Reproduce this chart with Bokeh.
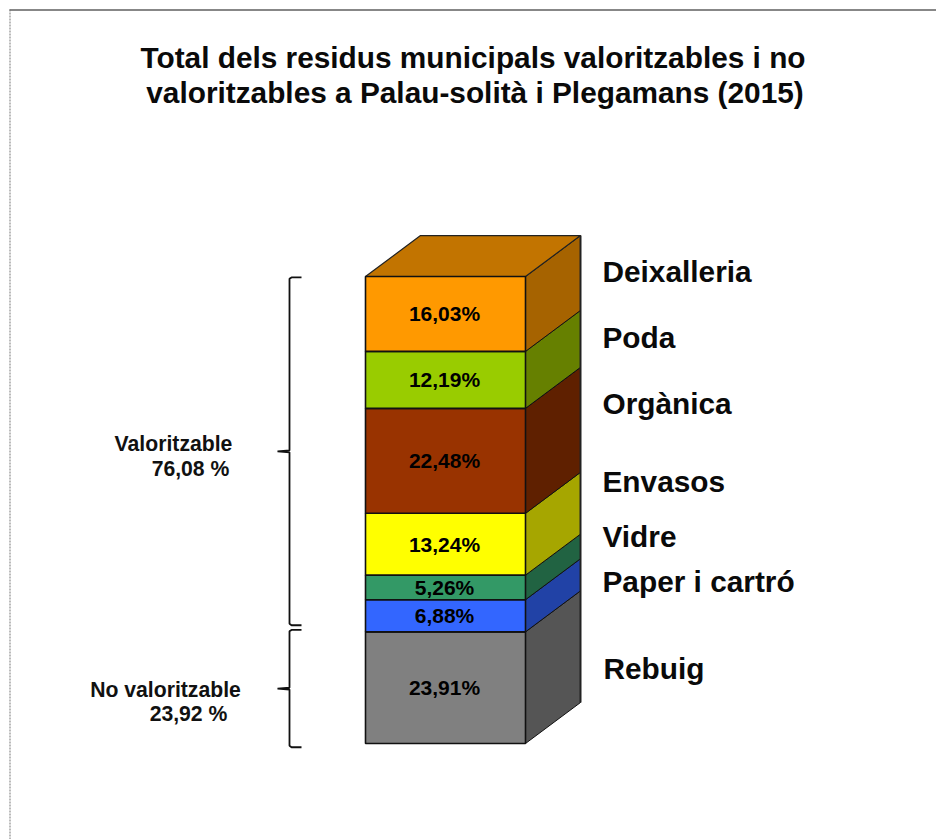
from bokeh.plotting import figure
from bokeh.models import Range1d
from bokeh.core.properties import value
from bokeh.embed import file_html
from bokeh.resources import INLINE
import numpy as np

# ---------- data ----------
categories = ["Rebuig", "Paper i cartró", "Vidre", "Envasos", "Orgànica", "Poda", "Deixalleria"]
percentages = [23.91, 6.88, 5.26, 13.24, 22.48, 12.19, 16.03]
value_labels = ["23,91%", "6,88%", "5,26%", "13,24%", "22,48%", "12,19%", "16,03%"]
front_colors = ["#808080", "#3366FF", "#339966", "#FFFF00", "#993300", "#99CC00", "#FF9900"]
side_colors = ["#555555", "#2142A6", "#216342", "#A6A600", "#5F2000", "#668000", "#A66300"]
top_color = "#C27400"
group_names = ["No valoritzable", "Valoritzable"]
group_values = ["23,92 %", "76,08 %"]
group_shares = [23.92, 76.08]
title_lines = ["Total dels residus municipals valoritzables i no",
               "valoritzables a Palau-solità i Plegamans (2015)"]

# ---------- layout (picture pixels) ----------
W, H = 936, 839
PX_PER_PCT = 4.67
Y0_PAGE = 743
FONT = value("Liberation Sans")

def X(px):
    return px

def Y(py):
    return (Y0_PAGE - py) / PX_PER_PCT

p = figure(width=W, height=H, output_backend="svg", toolbar_location=None,
           x_range=Range1d(0, W), y_range=Range1d(Y(H), Y(0)),
           min_border=0, min_border_left=0, min_border_right=0,
           min_border_top=0, min_border_bottom=0, outline_line_color=None)
p.axis.visible = False
p.grid.visible = False
p.background_fill_color = "white"
p.border_fill_color = "white"

# page frame
p.line([X(9), X(W)], [Y(9.5), Y(9.5)], line_color="#111111", line_width=1.2)
p.line([X(9.5), X(9.5)], [Y(9), Y(H)], line_color="#777777", line_width=1, line_dash="2 1")

# 3D stack
bx0, bx1 = X(365), X(525)
dx = 55
dy = 41 / PX_PER_PCT
tops = np.cumsum(percentages)
bottoms = tops - np.array(percentages)

side_xs = [[bx1, bx1 + dx, bx1 + dx, bx1] for _ in percentages]
side_ys = [[b, b + dy, t + dy, t] for b, t in zip(bottoms, tops)]
p.patches(side_xs, side_ys, fill_color=side_colors, line_color="#111111", line_width=1)
# right edge of the block
p.line([bx1 + dx, bx1 + dx], [dy, tops[-1] + dy], line_color="#222222", line_width=2)
# top face
p.patch([bx0, bx1, bx1 + dx, bx0 + dx], [tops[-1], tops[-1], tops[-1] + dy, tops[-1] + dy],
        fill_color=top_color, line_color="#222222", line_width=1.2)
# front faces
p.quad(left=bx0, right=bx1, bottom=bottoms, top=tops, fill_color=front_colors,
       line_color="#111111", line_width=1.6)
# value labels
p.text([(bx0 + bx1) / 2 - 1] * len(percentages), (bottoms + tops) / 2, text=value_labels,
       text_font=FONT, text_font_style="bold", text_font_size="21px", text_color="black",
       text_align="center", text_baseline="middle")

# category names
name_x = [603, 602, 602, 602, 602, 602, 602]
name_y = [668, 581, 536, 481, 403, 337, 271]
p.text([X(v) for v in name_x], [Y(v) for v in name_y], text=categories, text_font=FONT,
       text_font_style="bold", text_font_size="29.8px", text_color="#0a0a0a",
       text_align="left", text_baseline="middle")

# title
p.text([X(472.5), X(474.5)], [Y(56.5), Y(91.5)], text=title_lines, text_font=FONT, text_font_style="bold",
       text_font_size="29.8px", text_color="#0a0a0a", text_align="center", text_baseline="middle")

# braces
gap = 0.8
brace_x, hook, tick = X(289), 12, 12
cum = np.cumsum(group_shares)
spans = [(-gap, cum[0] + gap / 2), (cum[0] + 1.4, cum[1] - 0.2)]
brace_xs, brace_ys = [], []
for lo, hi in spans:
    mid = (lo + hi) / 2
    brace_xs.append([brace_x + hook, brace_x + 2, brace_x, brace_x, brace_x - tick,
                     brace_x, brace_x, brace_x + 2, brace_x + hook])
    brace_ys.append([lo, lo, lo + 0.3, mid - 0.2, mid, mid + 0.2, hi - 0.3, hi, hi])
p.multi_line(brace_xs, brace_ys, line_color="#111111", line_width=1.8)

# group labels
p.text([X(165), X(188)], [Y(689), Y(713)], text=[group_names[0], group_values[0]], text_font=FONT,
       text_font_style="bold", text_font_size="21.2px", text_color="#111111",
       text_align="center", text_baseline="middle")
p.text([X(173), X(190)], [Y(443), Y(468)], text=[group_names[1], group_values[1]], text_font=FONT,
       text_font_style="bold", text_font_size="21.2px", text_color="#111111",
       text_align="center", text_baseline="middle")

open("out.html", "w").write(file_html(p, INLINE))
